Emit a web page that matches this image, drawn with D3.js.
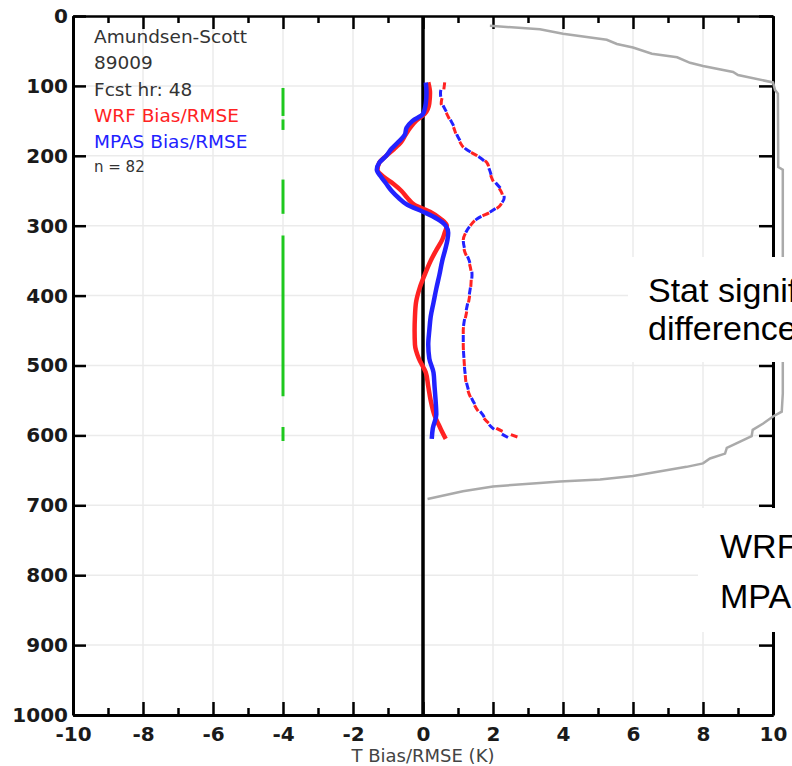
<!DOCTYPE html>
<html>
<head>
<meta charset="utf-8">
<script src="https://cdn.jsdelivr.net/npm/d3@7"></script>
<style>
  html, body { margin: 0; padding: 0; background: #fff; overflow: hidden; }
  svg { display: block; }
</style>
</head>
<body>
<svg id="chart"></svg>
<script>
// pressure levels (hPa) the profiles are read at
const levels = [95, 110, 125, 140, 150, 160, 170, 180, 190, 200, 210, 220, 230, 240, 250, 260, 270, 280, 290, 300,
                310, 320, 335, 350, 370, 390, 410, 430, 450, 470, 490, 510, 530, 550, 570, 590, 605];

const wrfBias  = [0.15, 0.2, 0.18, 0.05, -0.2, -0.37, -0.5, -0.62, -0.82, -1.05, -1.25, -1.3, -1.13, -0.85, -0.62, -0.45, -0.25, 0.2, 0.5, 0.68,
                  0.62, 0.55, 0.38, 0.22, 0.05, -0.1, -0.2, -0.23, -0.24, -0.23, -0.12, 0.08, 0.15, 0.22, 0.32, 0.5, 0.65];
const mpasBias = [0.08, 0.1, 0.08, 0.0, -0.3, -0.47, -0.52, -0.7, -0.9, -1.05, -1.25, -1.32, -1.2, -1.05, -0.9, -0.7, -0.45, 0.0, 0.4, 0.65,
                  0.72, 0.7, 0.63, 0.55, 0.47, 0.38, 0.3, 0.22, 0.18, 0.15, 0.18, 0.3, 0.33, 0.36, 0.38, 0.28, 0.25];
const wrfRmse  = [0.62, 0.58, 0.52, 0.68, 0.78, 0.88, 0.95, 1.05, 1.2, 1.55, 1.83, 1.9, 1.95, 2.05, 2.22, 2.28, 2.22, 1.95, 1.55, 1.35,
                  1.22, 1.15, 1.18, 1.3, 1.38, 1.36, 1.3, 1.22, 1.15, 1.15, 1.17, 1.2, 1.25, 1.4, 1.65, 2.1, 2.85];
const mpasRmse = [0.6, 0.5, 0.55, 0.7, 0.8, 0.9, 0.97, 1.08, 1.22, 1.55, 1.8, 1.9, 1.97, 2.1, 2.27, 2.32, 2.2, 1.93, 1.55, 1.35,
                  1.22, 1.15, 1.2, 1.32, 1.4, 1.35, 1.28, 1.2, 1.15, 1.15, 1.17, 1.2, 1.27, 1.42, 1.7, 2.0, 2.5];

// grey sample-size profile (x in K units, p in hPa)
const countX = [1.91, 3.34, 4.0, 5.25, 5.54, 6.0, 6.54, 7.26, 7.63, 8.0, 8.86, 9.0, 10.0, 10.06, 10.14, 10.15, 10.28, 10.28, 10.25,
                10.0, 9.72, 9.42, 9.39, 9.06, 8.68, 8.63, 8.2, 8.0, 7.53, 6.0, 5.06, 3.91, 3.34, 2.0, 1.14, 0.13];
const countP = [14, 19, 25.5, 34, 40, 45, 54, 59, 67, 71.5, 80, 84.5, 95, 106, 111, 216, 220, 540, 566,
                573, 583, 592, 601, 609, 618, 626, 633, 640, 645, 658, 663, 666, 668, 673, 680, 691];

// statistically significant layers (green marks at -4)
const sigTop    = [103, 148, 234, 314, 588];
const sigBottom = [143, 163, 283, 544, 608];

const xTicks = [-10, -8, -6, -4, -2, 0, 2, 4, 6, 8, 10];
const xMinor = [-9, -7, -5, -3, -1, 1, 3, 5, 7, 9];
const yTicks = [0, 100, 200, 300, 400, 500, 600, 700, 800, 900, 1000];

const infoLines = ["Amundsen-Scott", "89009", "Fcst hr: 48"];
const legendLabels = ["WRF Bias/RMSE", "MPAS Bias/RMSE"];
const countLabel = "n = 82";
const xTitle = "T Bias/RMSE (K)";

const width = 792, height = 766;
const left_offset = 73, right_offset = 19, top_offset = 16, bottom_offset = 51;
const wrf_color = "#ff2222", mpas_color = "#2222ff";

const svg = d3.select("#chart").attr("width", width).attr("height", height);

const x = d3.scaleLinear().domain([-10, 10]).range([left_offset, width - right_offset]);
const y = d3.scaleLinear().domain([0, 1000]).range([top_offset, height - bottom_offset]);

// grid
const grid = svg.append("g").attr("stroke", "#ebebeb").attr("stroke-width", 1.5);
grid.selectAll("line.v").data(xTicks.slice(1, -1)).enter().append("line")
    .attr("x1", d => x(d)).attr("x2", d => x(d)).attr("y1", y(0)).attr("y2", y(1000));
grid.selectAll("line.h").data(yTicks.slice(1, -1)).enter().append("line")
    .attr("x1", x(-10)).attr("x2", x(10)).attr("y1", d => y(d)).attr("y2", d => y(d));

// axes
function styleAxis(g, w) {
    g.select(".domain").attr("stroke", "#000").attr("stroke-width", w);
    g.selectAll(".tick line").attr("stroke", "#000").attr("stroke-width", 2.5);
    g.selectAll("text").attr("font-family", "DejaVu Sans").attr("font-size", 20)
        .attr("font-weight", "bold").attr("fill", "#1a1a1a");
}

svg.append("g").attr("transform", `translate(0,${y(1000)})`)
    .call(d3.axisBottom(x).tickValues(xTicks).tickSizeInner(-13).tickSizeOuter(0).tickPadding(12).tickFormat(d => String(d)))
    .call(g => styleAxis(g, 3));
svg.append("g").attr("transform", `translate(0,${y(1000)})`)
    .call(d3.axisBottom(x).tickValues(xMinor).tickSizeInner(-7).tickSizeOuter(0).tickFormat(""))
    .call(g => styleAxis(g, 3));
svg.append("g").attr("transform", `translate(0,${y(0)})`)
    .call(d3.axisTop(x).tickValues(xTicks).tickSizeInner(-13).tickSizeOuter(0).tickFormat(""))
    .call(g => styleAxis(g, 1.8));
svg.append("g").attr("transform", `translate(0,${y(0)})`)
    .call(d3.axisTop(x).tickValues(xMinor).tickSizeInner(-7).tickSizeOuter(0).tickFormat(""))
    .call(g => styleAxis(g, 1.8));
svg.append("g").attr("transform", `translate(${x(-10)},0)`)
    .call(d3.axisLeft(y).tickValues(yTicks).tickSizeInner(-13).tickSizeOuter(0).tickPadding(5).tickFormat(d => String(d)))
    .call(g => styleAxis(g, 3));
svg.append("g").attr("transform", `translate(${x(10)},0)`)
    .call(d3.axisRight(y).tickValues(yTicks).tickSizeInner(-14).tickSizeOuter(0).tickFormat(""))
    .call(g => styleAxis(g, 3));

// zero line
svg.append("line")
    .attr("x1", x(0)).attr("x2", x(0)).attr("y1", y(0)).attr("y2", y(1000))
    .attr("stroke", "#000").attr("stroke-width", 3.5);

// grey count profile
const countLine = d3.line().x(d => x(d[0])).y(d => y(d[1]));
svg.append("path")
    .attr("d", countLine(countX.map((v, i) => [v, countP[i]])))
    .attr("fill", "none").attr("stroke", "#aaaaaa").attr("stroke-width", 2.5);

// significance marks
svg.selectAll("line.sig").data(sigTop).enter().append("line")
    .attr("x1", x(-4)).attr("x2", x(-4))
    .attr("y1", d => y(d)).attr("y2", (d, i) => y(sigBottom[i]))
    .attr("stroke", "#1ec81e").attr("stroke-width", 3);

// profiles
const profile = d3.line().x(d => x(d[0])).y(d => y(d[1])).curve(d3.curveMonotoneY);
function drawProfile(vals, color, w, dash, offset) {
    svg.append("path")
        .attr("d", profile(vals.map((v, i) => [v, levels[i]])))
        .attr("fill", "none").attr("stroke", color).attr("stroke-width", w)
        .attr("stroke-linecap", "butt").attr("stroke-linejoin", "round")
        .attr("stroke-dasharray", dash).attr("stroke-dashoffset", offset);
}
drawProfile(wrfRmse, wrf_color, 3, "7,9", 0);
drawProfile(mpasRmse, mpas_color, 3, "7,9", 8);
drawProfile(wrfBias, wrf_color, 4.5, null, 0);
drawProfile(mpasBias, mpas_color, 4.5, null, 0);

// station info text
const info = svg.append("g").attr("font-family", "DejaVu Sans").attr("font-size", 18.5);
infoLines.forEach((t, i) => {
    info.append("text").attr("x", 94).attr("y", 43 + i * 26.3).attr("fill", "#333").text(t);
});
[wrf_color, mpas_color].forEach((c, i) => {
    info.append("text").attr("x", 94).attr("y", 122 + i * 26.3).attr("fill", c).text(legendLabels[i]);
});
info.append("text").attr("x", 94).attr("y", 172).attr("font-size", 15).attr("fill", "#333").text(countLabel);

// x axis title
svg.append("text")
    .attr("x", x(0)).attr("y", 762).attr("text-anchor", "middle")
    .attr("font-family", "DejaVu Sans").attr("font-size", 18).attr("fill", "#444")
    .text(xTitle);

// slide overlays (cut by the right edge, as in the source slide)
svg.append("rect").attr("x", 628).attr("y", 257).attr("width", 170).attr("height", 105).attr("fill", "#fff");
svg.append("text").attr("x", 648).attr("y", 302).attr("font-family", "Liberation Sans").attr("font-size", 34)
    .attr("fill", "#000").text("Stat significant");
svg.append("text").attr("x", 648).attr("y", 340).attr("font-family", "Liberation Sans").attr("font-size", 34)
    .attr("fill", "#000").text("differences");

svg.append("rect").attr("x", 698).attr("y", 508).attr("width", 100).attr("height", 124).attr("fill", "#fff");
svg.append("text").attr("x", 720).attr("y", 558).attr("font-family", "Liberation Sans").attr("font-size", 34)
    .attr("fill", "#000").text("WRF better");
svg.append("text").attr("x", 720).attr("y", 608).attr("font-family", "Liberation Sans").attr("font-size", 34)
    .attr("fill", "#000").text("MPAS better");
</script>
</body>
</html>
